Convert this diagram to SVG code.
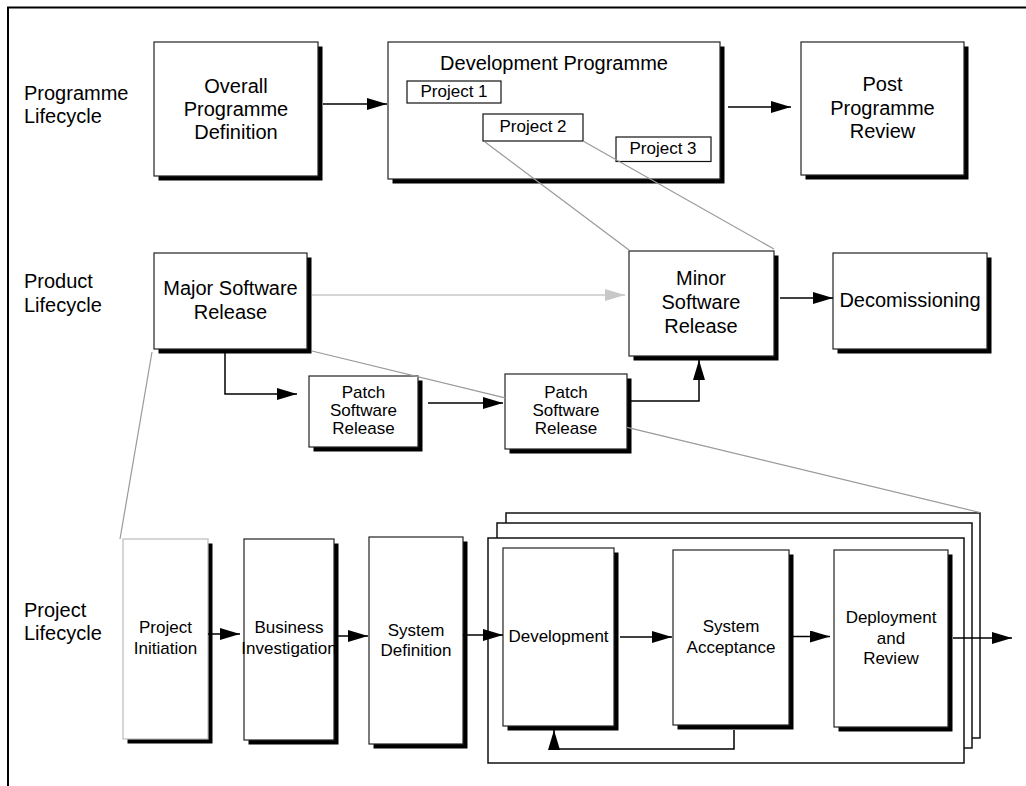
<svg xmlns="http://www.w3.org/2000/svg" width="1026" height="786" viewBox="0 0 1026 786">
<defs>
<style>
text{font-family:"Liberation Sans",Arial,sans-serif;fill:#000}
.c{text-anchor:middle}
.l20{font-size:20px}
.l17{font-size:17px}
.box{fill:#fff;stroke:#222;stroke-width:1.2}
.pbox{fill:#fff;stroke:#bbb;stroke-width:1.2}
.sh{fill:#000}
.stack{fill:#fff;stroke:#111;stroke-width:1.5}
.sub{fill:#fff;stroke:#111;stroke-width:1.2}
.arr{fill:none;stroke:#000;stroke-width:1.5;marker-end:url(#ah)}
.garr{fill:none;stroke:#c8c8c8;stroke-width:1.5;marker-end:url(#gah)}
.zl{fill:none;stroke:#999;stroke-width:1.2}
</style>
<marker id="ah" viewBox="0 0 20 12" refX="20" refY="6" markerWidth="20" markerHeight="12" markerUnits="userSpaceOnUse" orient="auto"><path d="M0,0L20,6L0,12z" fill="#000"/></marker>
<marker id="gah" viewBox="0 0 20 12" refX="20" refY="6" markerWidth="20" markerHeight="12" markerUnits="userSpaceOnUse" orient="auto"><path d="M0,0L20,6L0,12z" fill="#c8c8c8"/></marker>
</defs>
<rect width="1026" height="786" fill="#fff"/>
<polyline points="8,786 8,7.5 1026,7.5" fill="none" stroke="#000" stroke-width="2"/>

<g id="labels" class="l20">
<text x="24" y="100">Programme</text><text x="24" y="123">Lifecycle</text>
<text x="24" y="288">Product</text><text x="24" y="311.5">Lifecycle</text>
<text x="24" y="617">Project</text><text x="24" y="640">Lifecycle</text>
</g>

<g id="overall"><rect class="sh" x="158.5" y="46.5" width="164" height="134"/><rect class="box" x="154" y="42" width="164" height="134"/>
<text class="c l20" x="236" y="93">Overall</text><text class="c l20" x="236" y="116">Programme</text><text class="c l20" x="236" y="139">Definition</text></g>

<g id="devprog"><rect class="sh" x="392.5" y="46.5" width="332" height="137"/><rect class="box" x="388" y="42" width="332" height="137"/>
<text class="c l20" x="554" y="69.5">Development Programme</text></g>
<g id="project1"><rect class="sub" x="407" y="81" width="94" height="22"/><text class="c l17" x="454" y="97">Project 1</text></g>
<g id="project2"><rect class="sub" x="483" y="114" width="100" height="27"/><text class="c l17" x="533" y="132">Project 2</text></g>
<g id="project3"><rect class="sub" x="616" y="137" width="95" height="24.5"/><text class="c l17" x="663" y="154">Project 3</text></g>

<g id="post"><rect class="sh" x="805.5" y="46.5" width="163" height="133"/><rect class="box" x="801" y="42" width="163" height="133"/>
<text class="c l20" x="882.5" y="91">Post</text><text class="c l20" x="882.5" y="115">Programme</text><text class="c l20" x="882.5" y="138">Review</text></g>

<g id="major"><rect class="sh" x="158.5" y="257.5" width="153" height="96"/><rect class="box" x="154" y="253" width="153" height="96"/>
<text class="c l20" x="230.5" y="294.5">Major Software</text><text class="c l20" x="230.5" y="318.5">Release</text></g>

<g id="minor"><rect class="sh" x="633.5" y="255.5" width="145" height="105"/><rect class="box" x="629" y="251" width="145" height="105"/>
<text class="c l20" x="701" y="285">Minor</text><text class="c l20" x="701" y="309">Software</text><text class="c l20" x="701" y="333">Release</text></g>

<g id="decom"><rect class="sh" x="837.5" y="257.5" width="154" height="96"/><rect class="box" x="833" y="253" width="154" height="96"/>
<text class="c l20" x="910" y="307">Decomissioning</text></g>

<g id="patch1"><rect class="sh" x="313.5" y="380.5" width="109" height="71"/><rect class="box" x="309" y="376" width="109" height="71"/>
<text class="c l17" x="363.5" y="398">Patch</text><text class="c l17" x="363.5" y="416">Software</text><text class="c l17" x="363.5" y="434">Release</text></g>

<g id="patch2"><rect class="sh" x="509.5" y="378.5" width="122" height="75"/><rect class="box" x="505" y="374" width="122" height="75"/>
<text class="c l17" x="566" y="398">Patch</text><text class="c l17" x="566" y="416">Software</text><text class="c l17" x="566" y="434">Release</text></g>

<g id="iteration-stack">
<rect class="stack" x="506" y="513" width="474" height="225"/>
<rect class="stack" x="497" y="523" width="475" height="225"/>
<rect class="stack" x="488" y="538" width="476" height="225"/>
</g>

<g id="initiation"><rect class="sh" x="127.5" y="543.5" width="85" height="200"/><rect class="pbox" x="123" y="539" width="85" height="200"/>
<text class="c l17" x="165.5" y="633">Project</text><text class="c l17" x="165.5" y="654">Initiation</text></g>

<g id="business"><rect class="sh" x="248.5" y="543.5" width="90" height="201"/><rect class="box" x="244" y="539" width="90" height="201"/>
<text class="c l17" x="289" y="633">Business</text><text class="c l17" x="289" y="654">Investigation</text></g>

<g id="sysdef"><rect class="sh" x="373.5" y="541.5" width="94" height="207"/><rect class="box" x="369" y="537" width="94" height="207"/>
<text class="c l17" x="416" y="636">System</text><text class="c l17" x="416" y="656">Definition</text></g>

<g id="development"><rect class="sh" x="507.5" y="552.5" width="111" height="178"/><rect class="box" x="503" y="548" width="111" height="178"/>
<text class="c l17" x="558.5" y="642">Development</text></g>

<g id="acceptance"><rect class="sh" x="677.5" y="554.5" width="116" height="175"/><rect class="box" x="673" y="550" width="116" height="175"/>
<text class="c l17" x="731" y="632">System</text><text class="c l17" x="731" y="653">Acceptance</text></g>

<g id="deployment"><rect class="sh" x="838.5" y="554.5" width="114" height="177"/><rect class="box" x="834" y="550" width="114" height="177"/>
<text class="c l17" x="891" y="623">Deployment</text><text class="c l17" x="891" y="644">and</text><text class="c l17" x="891" y="664">Review</text></g>

<g id="connectors">
<line class="zl" x1="485" y1="142" x2="629" y2="250"/>
<line class="zl" x1="583" y1="141" x2="774" y2="249"/>
<line class="zl" x1="152" y1="352" x2="120" y2="539"/>
<line class="zl" x1="312" y1="351" x2="505" y2="397.8"/>
<line class="zl" x1="627" y1="427.4" x2="980" y2="512.5"/>
<line class="arr" x1="323" y1="104" x2="387" y2="104"/>
<line class="arr" x1="728" y1="107" x2="791" y2="107"/>
<line class="garr" x1="312" y1="295" x2="625" y2="295"/>
<line class="arr" x1="780" y1="298" x2="833" y2="298"/>
<polyline class="arr" points="225,353 225,394 297,394"/>
<line class="arr" x1="428" y1="403" x2="503" y2="403"/>
<polyline class="arr" points="631,401 699,401 699,360"/>
<line class="arr" x1="208" y1="634" x2="240" y2="634"/>
<line class="arr" x1="338" y1="636" x2="368" y2="636"/>
<line class="arr" x1="463" y1="635" x2="503" y2="635"/>
<line class="arr" x1="620" y1="637" x2="672" y2="637"/>
<line class="arr" x1="790" y1="636.5" x2="830" y2="636.5"/>
<line class="arr" x1="953" y1="638" x2="1012" y2="638"/>
<polyline class="arr" points="734,730 734,749 554,749 554,730"/>
</g>
</svg>
